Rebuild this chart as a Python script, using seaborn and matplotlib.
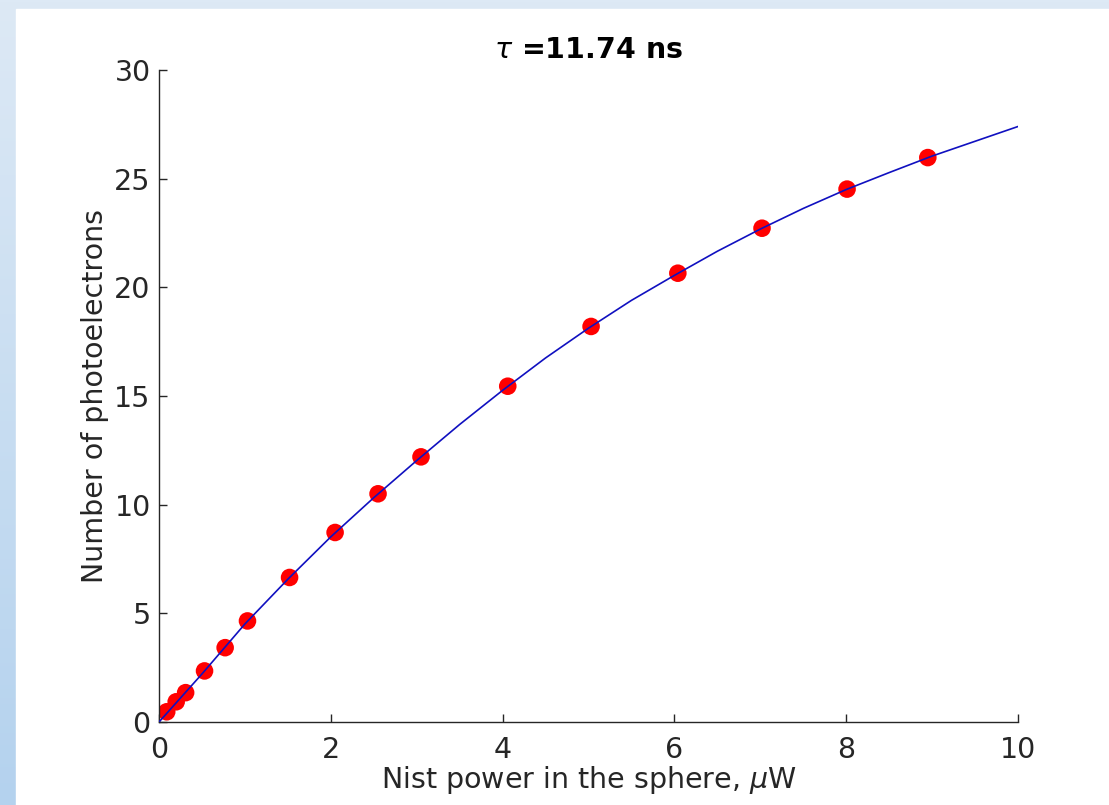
import numpy as np
import pandas as pd
import matplotlib
matplotlib.use("Agg")
import matplotlib.pyplot as plt
import seaborn as sns
from matplotlib.patches import Rectangle
from matplotlib.colors import LinearSegmentedColormap

# measured points
power = [0.09, 0.20, 0.31, 0.53, 0.77, 1.03, 1.52, 2.05, 2.55, 3.05,
         4.06, 5.03, 6.04, 7.02, 8.01, 8.95]
npe = [0.47, 0.93, 1.35, 2.35, 3.42, 4.65, 6.65, 8.72, 10.5, 12.2,
       15.45, 18.2, 20.65, 22.72, 24.52, 25.97]

# fit curve
fit_x = [0, 0.5, 1.0, 1.5, 2.0, 2.5, 3.0, 3.5, 4.0, 4.5, 5.0, 5.5, 6.0,
         6.5, 7.0, 7.5, 8.0, 8.5, 9.0, 9.5, 10.0]
fit_y = [0, 2.21, 4.51, 6.57, 8.52, 10.32, 12.03, 13.69, 15.26, 16.75,
         18.12, 19.4, 20.55, 21.66, 22.68, 23.63, 24.5, 25.28, 26.04,
         26.72, 27.4]

x_ticks = [0, 2, 4, 6, 8, 10]
y_ticks = [0, 5, 10, 15, 20, 25, 30]

sns.set_theme(style="ticks")
plt.rcParams['font.family'] = ['DejaVu Sans']
plt.rcParams['mathtext.fontset'] = 'dejavusans'

W, H = 1109, 805
FS = 20.5
fig = plt.figure(figsize=(W / 100, H / 100), dpi=100)

# slide background (gradient strip) + white panel
bg = fig.add_axes([0, 0, 1, 1], zorder=-10)
grad = np.linspace(0, 1, 256).reshape(-1, 1)
cmap = LinearSegmentedColormap.from_list("bg", ["#dde9f5", "#b4d2ee"])
bg.imshow(grad, aspect='auto', cmap=cmap, extent=[0, 1, 0, 1], origin='upper')
bg.add_patch(Rectangle((16 / W, 0), 1 - 16 / W, 1 - 9 / H,
                       transform=bg.transAxes, color="white", zorder=2))
bg.set_axis_off()

ax = fig.add_axes([159 / W, 1 - 722 / H, (1018 - 159) / W, (722 - 70) / H])
ax.set_facecolor("none")

df_fit = pd.DataFrame({"x": fit_x, "y": fit_y})
df_pts = pd.DataFrame({"x": power, "y": npe})

sns.scatterplot(data=df_pts, x="x", y="y", ax=ax, color="#ff0000",
                s=160, edgecolor="none", zorder=2)
sns.lineplot(data=df_fit, x="x", y="y", ax=ax, color="#1010c0",
             linewidth=1.2, zorder=3)

ax.set_xlim(0, 10)
ax.set_ylim(0, 30)
ax.set_xticks(x_ticks)
ax.set_yticks(y_ticks)
ax.set_xticklabels([str(t) for t in x_ticks])
ax.set_yticklabels([str(t) for t in y_ticks])

dark = "#262626"
for side in ["top", "right"]:
    ax.spines[side].set_visible(False)
for side in ["left", "bottom"]:
    ax.spines[side].set_color(dark)
    ax.spines[side].set_linewidth(1.0)
ax.tick_params(direction="in", length=6, width=1.0, colors=dark,
               labelsize=FS)
ax.tick_params(axis="x", pad=10)
ax.tick_params(axis="y", pad=6)

ax.set_xlabel(r"Nist power in the sphere, $\mu$W", fontsize=FS,
              color=dark, labelpad=0)
ax.set_ylabel("Number of photoelectrons", fontsize=FS, color=dark,
              labelpad=4)
ax.set_title(r"$\tau$ =11.74 ns", fontsize=FS, fontweight="bold",
             color="black", pad=9)

fig.savefig("out.png", dpi=100)
